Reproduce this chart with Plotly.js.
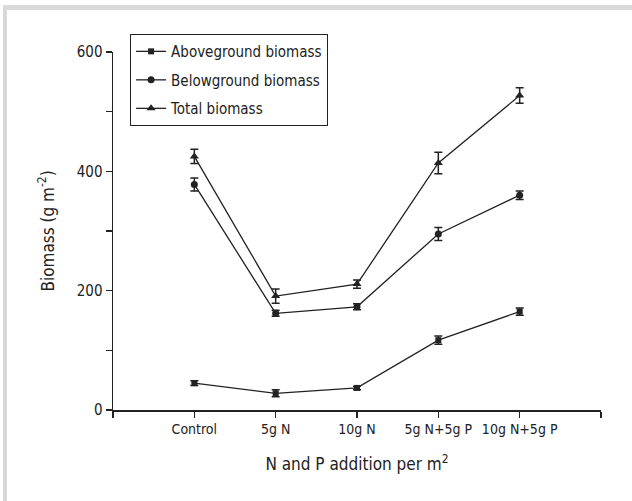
<!DOCTYPE html>
<html>
<head>
<meta charset="utf-8">
<script src="https://cdn.plot.ly/plotly-3.0.1.min.js"></script>
<style>
  html, body { margin: 0; padding: 0; background: #fff; }
  #wrap { position: relative; width: 632px; height: 501px; }
  #chart { width: 632px; height: 501px; }
  #frame { position: absolute; left: 3px; top: 5px; right: 0; bottom: 0;
           border-top: 5px solid #d9d9d9; border-left: 4px solid #d9d9d9; pointer-events: none; }
</style>
</head>
<body>
<div id="wrap"><div id="chart"></div><div id="frame"></div></div>
<script>
const categories = ["Control", "5g N", "10g N", "5g N+5g P", "10g N+5g P"];
const catPositions = [1, 2, 3, 4, 5];
const aboveValues = [45, 28, 37, 117, 165];
const aboveErrors = [4, 6, 3, 7, 6];
const belowValues = [378, 162, 173, 295, 360];
const belowErrors = [11, 5, 5, 11, 7];
const totalValues = [425, 191, 211, 414, 527];
const totalErrors = [12, 12, 7, 18, 13];
const yTickVals = [0, 200, 400, 600];
const yMinorVals = [100, 300, 500];
const xEndTicks = [0, 6];

const FONT = '"Liberation Sans Narrow", "DejaVu Sans Condensed", "Arial Narrow", sans-serif';
const INK = '#222';

function series(name, vals, errs, symbol, size) {
  return {
    type: 'scatter', mode: 'lines+markers', name: name, legendgroup: name,
    x: catPositions, y: vals,
    line: { color: INK, width: 1.3 },
    marker: { symbol: symbol, size: size, color: INK },
    error_y: { type: 'data', array: errs, visible: true, color: INK, thickness: 1.5, width: 4 }
  };
}

const data = [
  series('Aboveground biomass', aboveValues, aboveErrors, 'square', 6),
  series('Belowground biomass', belowValues, belowErrors, 'circle', 7),
  series('Total biomass', totalValues, totalErrors, 'triangle-up', 8)
];

const layout = {
  width: 632, height: 501,
  margin: { l: 113, r: 31, t: 52, b: 91 },
  paper_bgcolor: '#fff', plot_bgcolor: '#fff',
  font: { family: FONT, size: 15, color: INK },
  showlegend: true,
  legend: {
    x: 0.035, y: 1.05, xanchor: 'left', yanchor: 'top',
    bordercolor: INK, borderwidth: 1, bgcolor: '#fff',
    font: { family: FONT, size: 15, color: INK },
    traceorder: 'grouped', tracegroupgap: 6
  },
  xaxis: {
    range: [0, 6], tickvals: catPositions, ticktext: categories,
    showgrid: false, zeroline: false, showline: true, linecolor: INK, linewidth: 1.5,
    ticks: 'outside', ticklen: 6, tickwidth: 1.5, tickcolor: INK,
    minor: { tickvals: xEndTicks, ticks: 'outside', ticklen: 6, tickwidth: 1.5, tickcolor: INK, showgrid: false },
    tickfont: { family: FONT, size: 14, color: INK },
    title: { text: 'N and P addition per m<sup>2</sup>', font: { family: FONT, size: 17, color: INK }, standoff: 22 }
  },
  yaxis: {
    range: [0, 600], tickvals: yTickVals,
    showgrid: false, zeroline: false, showline: true, linecolor: INK, linewidth: 1.5,
    ticks: 'outside', ticklen: 6, tickwidth: 1.5, tickcolor: INK,
    minor: { tickvals: yMinorVals, ticks: 'outside', ticklen: 6, tickwidth: 1.5, tickcolor: INK, showgrid: false },
    tickfont: { family: FONT, size: 15, color: INK },
    title: { text: 'Biomass (g m<sup>-2</sup>)', font: { family: FONT, size: 17, color: INK }, standoff: 18 }
  }
};

Plotly.newPlot('chart', data, layout, { displayModeBar: false, staticPlot: true });
</script>
</body>
</html>
